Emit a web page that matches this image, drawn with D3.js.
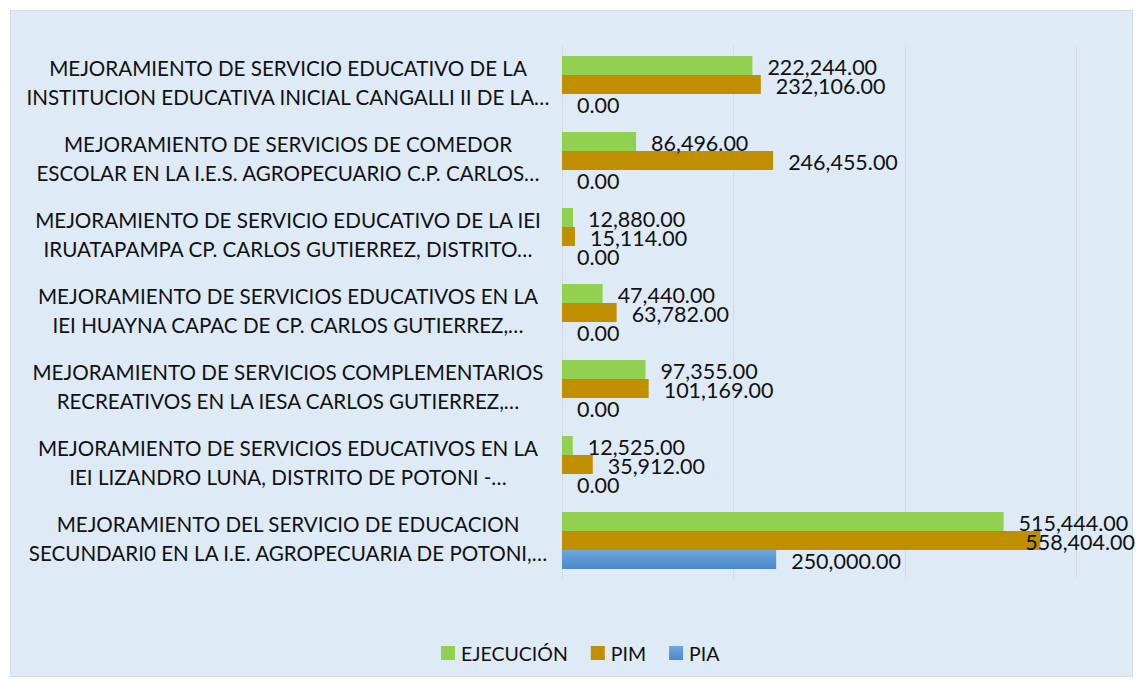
<!DOCTYPE html>
<html>
<head>
<meta charset="utf-8">
<script src="https://cdn.jsdelivr.net/npm/d3@7"></script>
<style>
  body { margin: 0; background: #fff; }
  text { font-family: Lato, "Open Sans", sans-serif; fill: #111; }
</style>
</head>
<body>
<svg id="main"></svg>
<script>
const width = 1136;
const height = 683;

// data
const categories = [
  ['MEJORAMIENTO DE SERVICIO EDUCATIVO DE LA', 'INSTITUCION EDUCATIVA INICIAL CANGALLI II DE LA…'],
  ['MEJORAMIENTO DE SERVICIOS DE COMEDOR', 'ESCOLAR EN LA I.E.S. AGROPECUARIO C.P. CARLOS…'],
  ['MEJORAMIENTO DE SERVICIO EDUCATIVO DE LA IEI', 'IRUATAPAMPA CP. CARLOS GUTIERREZ, DISTRITO…'],
  ['MEJORAMIENTO DE SERVICIOS EDUCATIVOS EN LA', 'IEI HUAYNA CAPAC DE CP. CARLOS GUTIERREZ,…'],
  ['MEJORAMIENTO DE SERVICIOS COMPLEMENTARIOS', 'RECREATIVOS EN LA IESA CARLOS GUTIERREZ,…'],
  ['MEJORAMIENTO DE SERVICIOS EDUCATIVOS EN LA', 'IEI LIZANDRO LUNA, DISTRITO DE POTONI -…'],
  ['MEJORAMIENTO DEL SERVICIO DE EDUCACION', 'SECUNDARI0 EN LA I.E. AGROPECUARIA DE POTONI,…']
]
const series = ['EJECUCIÓN', 'PIM', 'PIA']
const ejecucion = [222244, 86496, 12880, 47440, 97355, 12525, 515444]
const pim = [232106, 246455, 15114, 63782, 101169, 35912, 558404]
const pia = [0, 0, 0, 0, 0, 0, 250000]
const xTicks = [0, 200000, 400000, 600000]

const values = [ejecucion, pim, pia]
const colors = ['#92d050', '#bf8f00', 'url(#piaGrad)']

const svg = d3.select('#main').attr('width', width).attr('height', height)

const defs = svg.append('defs')
const grad = defs.append('linearGradient').attr('id', 'piaGrad')
  .attr('x1', 0).attr('y1', 0).attr('x2', 0).attr('y2', 1)
grad.append('stop').attr('offset', '0%').attr('stop-color', '#6fa7df')
grad.append('stop').attr('offset', '100%').attr('stop-color', '#4a87c9')

svg.append('rect')
  .attr('x', 10.5).attr('y', 10.5).attr('width', 1122).attr('height', 666)
  .attr('fill', '#deeaf6').attr('stroke', '#d6dde6')

const x = d3.scaleLinear().domain([0, 600000]).range([562, 1076])
const y = d3.scaleBand().domain(d3.range(categories.length)).range([46.5, 578.5])
  .paddingInner(0.25).paddingOuter(0.125)
const ySub = d3.scaleBand().domain(d3.range(series.length)).range([0, y.bandwidth()])

// gridlines
svg.append('g').selectAll('line').data(xTicks).join('line')
  .attr('x1', d => Math.round(x(d)) + 0.5).attr('x2', d => Math.round(x(d)) + 0.5)
  .attr('y1', 46).attr('y2', 579)
  .attr('stroke', '#d3dbe5').attr('stroke-width', 1)

// category labels
const labels = svg.append('g')
categories.forEach((lines, i) => {
  const cy = y(i) + y.bandwidth() / 2
  const t = labels.append('text')
    .attr('text-anchor', 'middle')
    .style('font-size', '20.6px')
  lines.forEach((line, j) => {
    t.append('tspan')
      .attr('x', 288)
      .attr('y', cy + (j === 0 ? -16.5 : 12.5))
      .attr('dominant-baseline', 'central')
      .text(line)
  })
})

// bars
const fmt = d3.format(',.2f')
const bars = svg.append('g')
const valueLabels = svg.append('g')
values.forEach((vals, s) => {
  vals.forEach((v, i) => {
    const by = y(i) + ySub(s)
    bars.append('rect')
      .attr('x', x(0)).attr('y', by)
      .attr('width', x(v) - x(0)).attr('height', ySub.bandwidth())
      .attr('fill', colors[s])
    const t = valueLabels.append('text')
      .attr('y', by + ySub.bandwidth() / 2 + 1.5)
      .attr('dominant-baseline', 'central')
      .style('font-size', '21.5px')
      .text(fmt(v))
    const w = t.node().getComputedTextLength()
    t.attr('x', Math.min(x(v) + 15, 1135 - w))
  })
})

// legend
const legend = svg.append('g')
let lx = 441
series.forEach((name, s) => {
  legend.append('rect')
    .attr('x', lx).attr('y', 646).attr('width', 14).attr('height', 14)
    .attr('fill', colors[s])
  const t = legend.append('text')
    .attr('x', lx + 20).attr('y', 653)
    .attr('dominant-baseline', 'central')
    .style('font-size', '19.5px')
    .text(name)
  lx += 20 + t.node().getComputedTextLength() + 23
})
</script>
</body>
</html>
